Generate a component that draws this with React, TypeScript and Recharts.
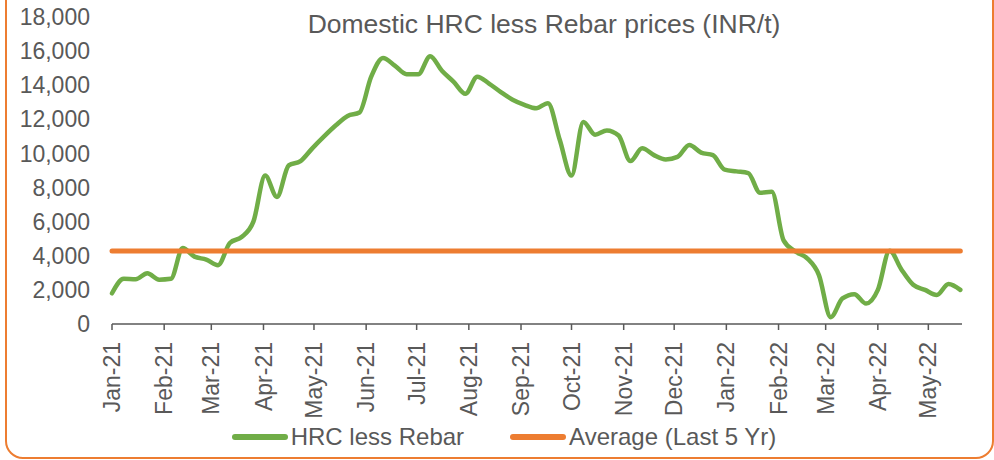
import React from 'react';
import { LineChart, Line, XAxis, YAxis, Legend } from 'recharts';

// weekly readings (Fridays) starting 1 Jan 2021
const firstWeek = '2021-01-01';
const hrcLessRebar = [
  1800, 2650, 2620, 2970, 2600, 2650, 4450, 3950, 3780, 3450,
  4750, 5100, 6000, 8700, 7450, 9300, 9550, 10300, 11000, 11650,
  12200, 12400, 14500, 15600, 15150, 14650, 14650, 15700, 14850, 14200,
  13500, 14500, 14100, 13600, 13150, 12850, 12650, 12950, 10800, 8700,
  11850, 11100, 11350, 11050, 9550, 10300, 9900, 9650, 9800, 10500,
  10050, 9900, 9050, 8950, 8850, 7700, 7750, 4900, 4250, 3850,
  2870, 400, 1500, 1750, 1200, 2000, 4300, 3200, 2300, 2000,
  1700, 2350, 2000,
];
const average5Yr = 4280;
const seriesNames = ['HRC less Rebar', 'Average (Last 5 Yr)'];

const monthLabels = [
  'Jan-21', 'Feb-21', 'Mar-21', 'Apr-21', 'May-21', 'Jun-21', 'Jul-21', 'Aug-21', 'Sep-21',
  'Oct-21', 'Nov-21', 'Dec-21', 'Jan-22', 'Feb-22', 'Mar-22', 'Apr-22', 'May-22',
];
const yTicks = [0, 2000, 4000, 6000, 8000, 10000, 12000, 14000, 16000, 18000];

const DAY = 86400000;
const start = Date.parse(firstWeek + 'T00:00:00Z');
const monthNames = ['Jan', 'Feb', 'Mar', 'Apr', 'May', 'Jun', 'Jul', 'Aug', 'Sep', 'Oct', 'Nov', 'Dec'];

const monthTicks = monthLabels.map((lab) => {
  const [m, y] = lab.split('-');
  return (Date.UTC(2000 + Number(y), monthNames.indexOf(m), 1) - start) / DAY;
});
const labelByDay: Record<number, string> = {};
monthTicks.forEach((d, i) => { labelByDay[d] = monthLabels[i]; });

const data = hrcLessRebar.map((v, i) => ({ day: i * 7, hrc: v, avg: average5Yr }));

const FONT = '"Liberation Sans", Arial, sans-serif';
const GREY = '#595959';
const GREEN = '#70AD47';
const ORANGE = '#ED7D31';

const MonthTick = (props: any) => {
  const { x, y, payload } = props;
  return (
    <text x={x} y={y} dy="0.35em" transform={`rotate(-90 ${x} ${y})`} textAnchor="end"
      fill={GREY} fontSize={23} fontFamily={FONT}>
      {labelByDay[payload.value]}
    </text>
  );
};

const LegendBox = (props: any) => {
  const items = [...(props.payload || [])].sort(
    (a: any, b: any) => seriesNames.indexOf(a.value) - seriesNames.indexOf(b.value));
  return (
    <div style={{ display: 'flex', justifyContent: 'center', height: 30, alignItems: 'center', paddingLeft: 46, fontFamily: FONT, fontSize: 24, color: GREY }}>
      {items.map((it: any, i: number) => (
        <div key={it.value} style={{ display: 'flex', alignItems: 'center', marginLeft: i ? 46 : 0 }}>
          <span style={{ width: 56, height: 6, borderRadius: 3, background: it.color, marginRight: 3 }} />
          <span>{it.value}</span>
        </div>
      ))}
    </div>
  );
};

export default function App() {
  return (
    <div style={{ position: 'absolute', left: 0, top: 0, width: 994, height: 460, overflow: 'hidden', background: '#fff' }}>
      <div style={{ position: 'absolute', left: 5, top: -40, width: 985, height: 495, border: `2px solid ${ORANGE}`, borderRadius: 18 }} />
      <div style={{ position: 'absolute', left: 244, top: 11, width: 600, textAlign: 'center', fontFamily: FONT, fontSize: 26.5, lineHeight: '26px', color: GREY, zIndex: 2 }}>
        Domestic HRC less Rebar prices (INR/t)
      </div>
      <div style={{ position: 'absolute', left: 0, top: 0 }}>
        <LineChart width={994} height={460} data={data} margin={{ top: 17, right: 32, left: 0, bottom: 8 }}>
          <XAxis dataKey="day" type="number" domain={[0, 505]} ticks={monthTicks} interval={0}
            height={98} tick={<MonthTick />} tickSize={6} tickMargin={12}
            axisLine={{ stroke: GREY, strokeWidth: 1.5 }} tickLine={{ stroke: GREY, strokeWidth: 1.5 }} />
          <YAxis domain={[0, 18000]} ticks={yTicks} interval={0} width={112} axisLine={false} tickLine={false}
            tickMargin={16} tickFormatter={(v: number) => v.toLocaleString('en-US')}
            tick={{ fill: GREY, fontSize: 23, fontFamily: FONT }} />
          <Legend verticalAlign="bottom" content={<LegendBox />} />
          <Line name={seriesNames[0]} type="monotone" dataKey="hrc" stroke={GREEN} strokeWidth={4.5}
            dot={false} strokeLinecap="round" strokeLinejoin="round" isAnimationActive={false} />
          <Line name={seriesNames[1]} type="linear" dataKey="avg" stroke={ORANGE} strokeWidth={5}
            dot={false} strokeLinecap="round" isAnimationActive={false} />
        </LineChart>
      </div>
    </div>
  );
}
